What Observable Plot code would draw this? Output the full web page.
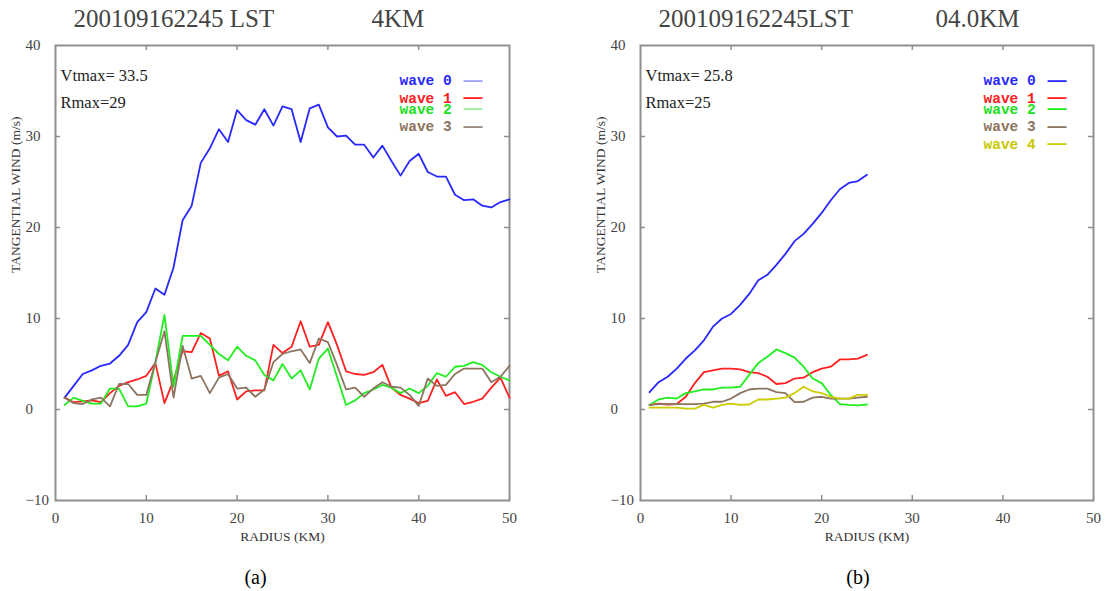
<!DOCTYPE html>
<html><head><meta charset="utf-8">
<script src="https://cdn.jsdelivr.net/npm/d3@7"></script>
<script src="https://cdn.jsdelivr.net/npm/@observablehq/plot@0.6"></script>
<style>
body{margin:0;background:#fff;width:1109px;height:591px;position:relative;overflow:hidden}
#pa{position:absolute;left:0;top:0}
#pb{position:absolute;left:560px;top:0}
</style></head><body><div id="pa"></div><div id="pb"></div>
<script>
// ---------- data ----------
const xTicks = [0, 10, 20, 30, 40, 50];
const yTicks = [-10, 0, 10, 20, 30, 40];
const xInner = [10, 20, 30, 40];
const yInner = [0, 10, 20, 30];

const radiusA = [1,2,3,4,5,6,7,8,9,10,11,12,13,14,15,16,17,18,19,20,21,22,23,24,25,26,27,28,29,30,31,32,33,34,35,36,37,38,39,40,41,42,43,44,45,46,47,48,49,50];
const wave0A = [1.3,2.6,3.9,4.3,4.8,5.05,5.9,7.1,9.6,10.7,13.3,12.6,15.6,20.8,22.4,27.1,28.7,30.8,29.4,32.9,31.8,31.3,33.0,31.2,33.3,33.0,29.4,33.1,33.5,31.0,30.0,30.1,29.1,29.1,27.7,29.0,27.3,25.7,27.3,28.1,26.1,25.6,25.6,23.6,23.0,23.1,22.4,22.2,22.8,23.1];
const wave1A = [1.3,0.8,0.9,1.0,0.8,1.8,2.6,3.0,3.3,3.7,5.1,0.7,3.2,6.4,6.3,8.4,7.8,3.7,4.2,1.1,2.0,2.1,2.1,7.1,6.2,6.9,9.7,6.9,7.1,9.6,7.1,4.2,3.9,3.8,4.1,4.9,2.4,1.6,1.2,0.7,0.95,3.3,1.5,1.9,0.6,0.85,1.2,2.4,3.5,1.3];
const wave2A = [0.5,1.3,0.95,0.65,0.65,2.3,2.3,0.35,0.35,0.65,5.2,10.4,2.5,8.1,8.1,8.1,7.1,6.1,5.4,6.9,5.9,5.4,3.8,3.2,5.0,3.4,4.3,2.2,5.6,6.7,3.6,0.5,1.0,1.8,2.2,2.7,2.4,1.8,2.3,1.8,2.6,4.0,3.6,4.7,4.8,5.2,4.9,4.1,3.6,3.2];
const wave3A = [1.3,0.7,0.6,1.1,1.3,0.35,2.8,2.8,1.6,1.6,5.2,8.6,1.3,7.0,3.4,3.7,1.8,3.5,3.9,2.3,2.4,1.4,2.2,5.2,6.1,6.4,6.6,5.1,7.8,7.4,4.9,2.2,2.4,1.4,2.3,3.0,2.5,2.4,1.6,0.4,3.4,2.6,2.7,3.9,4.5,4.5,4.5,3.0,3.6,4.8];

const radiusB = [1,2,3,4,5,6,7,8,9,10,11,12,13,14,15,16,17,18,19,20,21,22,23,24,25];
const wave0B = [1.9,3.0,3.6,4.5,5.6,6.5,7.6,9.1,10.0,10.5,11.5,12.7,14.2,14.8,15.9,17.1,18.5,19.3,20.4,21.6,23.0,24.2,24.9,25.1,25.8];
const wave1B = [0.5,0.65,0.55,0.6,1.4,2.9,4.1,4.3,4.5,4.5,4.4,4.1,4.0,3.6,2.8,2.9,3.4,3.5,4.1,4.5,4.7,5.5,5.5,5.6,6.0];
const wave2B = [0.5,1.1,1.3,1.2,1.8,2.0,2.2,2.2,2.4,2.4,2.5,3.8,5.1,5.8,6.6,6.2,5.7,4.7,3.4,2.9,1.6,0.6,0.5,0.45,0.55];
const wave3B = [0.5,0.6,0.6,0.6,0.6,0.6,0.65,0.85,0.85,1.2,1.8,2.2,2.3,2.3,1.9,1.8,0.8,0.85,1.3,1.4,1.2,1.2,1.2,1.3,1.4];
const wave4B = [0.2,0.2,0.2,0.2,0.1,0.1,0.5,0.2,0.5,0.65,0.5,0.55,1.1,1.1,1.2,1.3,1.8,2.5,2.0,1.8,1.4,1.2,1.2,1.6,1.6];

const namesA = ["wave 0", "wave 1", "wave 2", "wave 3"];
const namesB = ["wave 0", "wave 1", "wave 2", "wave 3", "wave 4"];
const titleA = ["200109162245 LST", "4KM"];
const titleB = ["200109162245LST", "04.0KM"];
const statsA = ["Vtmax= 33.5", "Rmax=29"];
const statsB = ["Vtmax= 25.8", "Rmax=25"];
const captions = ["(a)", "(b)"];
const xLabel = "RADIUS (KM)";
const yLabel = "TANGENTIAL WIND (m/s)";

// ---------- styles ----------
const lineColors = ["#2828ff", "#ff2020", "#20ee20", "#8c7460", "#cccc00"];
const textColors = ["#2828ff", "#ff2020", "#20e020", "#8c7460", "#c8c800"];
const legendLineA = ["#a0a0ff", "#ff2020", "#a0f0a0", "#9a8878"];
const legendLineB = ["#2828ff", "#ff2020", "#20ee20", "#8c7460", "#cccc00"];
const legendDy = [35, 52.5, 63.5, 81, 98.5];
const serif = "Liberation Serif";
const FH = 455;

function panel({radius, series, names, legendLine, title, titleDx2, stats, caption, captionDx, width, marginLeft, marginRight}) {
  const FW = width - marginLeft - marginRight;
  const T = (txt, o) => Plot.text([txt], {lineAnchor: "middle", ...o});
  const marks = [
    Plot.frame({stroke: "#8f8f8f", strokeWidth: 2}),
    Plot.tickX(xInner, {x: d => d, stroke: "#8f8f8f", strokeWidth: 1.5, insetTop: FH - 5}),
    Plot.tickX(xInner, {x: d => d, stroke: "#8f8f8f", strokeWidth: 1.5, insetBottom: FH - 5}),
    Plot.tickY(yInner, {y: d => d, stroke: "#8f8f8f", strokeWidth: 1.5, insetRight: FW - 5}),
    Plot.tickY(yInner, {y: d => d, stroke: "#8f8f8f", strokeWidth: 1.5, insetLeft: FW - 5}),
    Plot.axisX(xTicks, {tickSize: 0, tickPadding: 12, fontSize: 15, fontFamily: serif, fill: "#444", tickFormat: d => String(d), label: null}),
    Plot.text(yTicks, {y: d => d, text: d => (d < 0 ? "\u2212" : "") + Math.abs(d), frameAnchor: "left", dx: -30, textAnchor: "start", lineAnchor: "middle", fontSize: 15, fontFamily: serif, fill: "#444"}),
    T(xLabel, {frameAnchor: "bottom", dy: 36, fontSize: 13.5, fontFamily: serif, fill: "#333", ariaLabel: "xlab"}),
    T(yLabel, {frameAnchor: "left", dx: -40, rotate: -90, fontSize: 13.5, fontFamily: serif, fill: "#333", ariaLabel: "ylab"}),
    T(title[0], {frameAnchor: "top-left", dx: 18, dy: -27, textAnchor: "start", fontSize: 25, fontFamily: serif, fill: "#444", ariaLabel: "title"}),
    T(title[1], {frameAnchor: "top-left", dx: titleDx2, dy: -27, textAnchor: "start", fontSize: 25, fontFamily: serif, fill: "#444", ariaLabel: "title"}),
    T(stats[0], {frameAnchor: "top-left", dx: 5, dy: 30, textAnchor: "start", fontSize: 16.5, fontFamily: serif, fill: "#222", ariaLabel: "stat"}),
    T(stats[1], {frameAnchor: "top-left", dx: 5, dy: 57, textAnchor: "start", fontSize: 16.5, fontFamily: serif, fill: "#222", ariaLabel: "stat"}),
    T(caption, {frameAnchor: "bottom", dx: captionDx, dy: 77, fontSize: 20, fontFamily: serif, fill: "#000"})
  ];
  series.forEach((vals, i) => {
    marks.push(Plot.line(vals, {x: (d, j) => radius[j], y: d => d, stroke: lineColors[i], strokeWidth: 1.8}));
  });
  names.forEach((n, i) => {
    marks.push(T(n, {frameAnchor: "top-right", dx: -110, dy: legendDy[i], textAnchor: "start", fontSize: 14.5, fontWeight: "bold", fontFamily: "Liberation Mono", fill: textColors[i]}));
    marks.push(T("\u2014", {frameAnchor: "top-right", dx: -46, dy: legendDy[i] - 1, textAnchor: "start", fontSize: 19, fontWeight: "bold", fontFamily: "Liberation Sans", fill: legendLine[i]}));
  });
  const svg = Plot.plot({
    width, height: 591, marginTop: 45, marginBottom: 91, marginLeft, marginRight,
    x: {domain: [0, 50], axis: null},
    y: {domain: [-10, 40], axis: null},
    style: {background: "white", overflow: "visible"},
    marks
  });
  d3.select(svg).selectAll('g[aria-label="title"] text').style("letter-spacing", "2.6px");
  d3.select(svg).selectAll('g[aria-label="stat"] text').style("letter-spacing", "2.1px");
  d3.select(svg).selectAll('g[aria-label="ylab"] text').style("letter-spacing", "0.6px");
  d3.select(svg).selectAll('g[aria-label="xlab"] text').style("letter-spacing", "0.5px");
  return svg;
}

document.getElementById("pa").appendChild(panel({
  radius: radiusA, series: [wave0A, wave1A, wave2A, wave3A], names: namesA, legendLine: legendLineA,
  title: titleA, titleDx2: 316, stats: statsA, caption: captions[0], captionDx: -27,
  width: 540, marginLeft: 55, marginRight: 31
}));
document.getElementById("pb").appendChild(panel({
  radius: radiusB, series: [wave0B, wave1B, wave2B, wave3B, wave4B], names: namesB, legendLine: legendLineB,
  title: titleB, titleDx2: 295, stats: statsB, caption: captions[1], captionDx: -9,
  width: 549, marginLeft: 80, marginRight: 16
}));
</script></body></html>
